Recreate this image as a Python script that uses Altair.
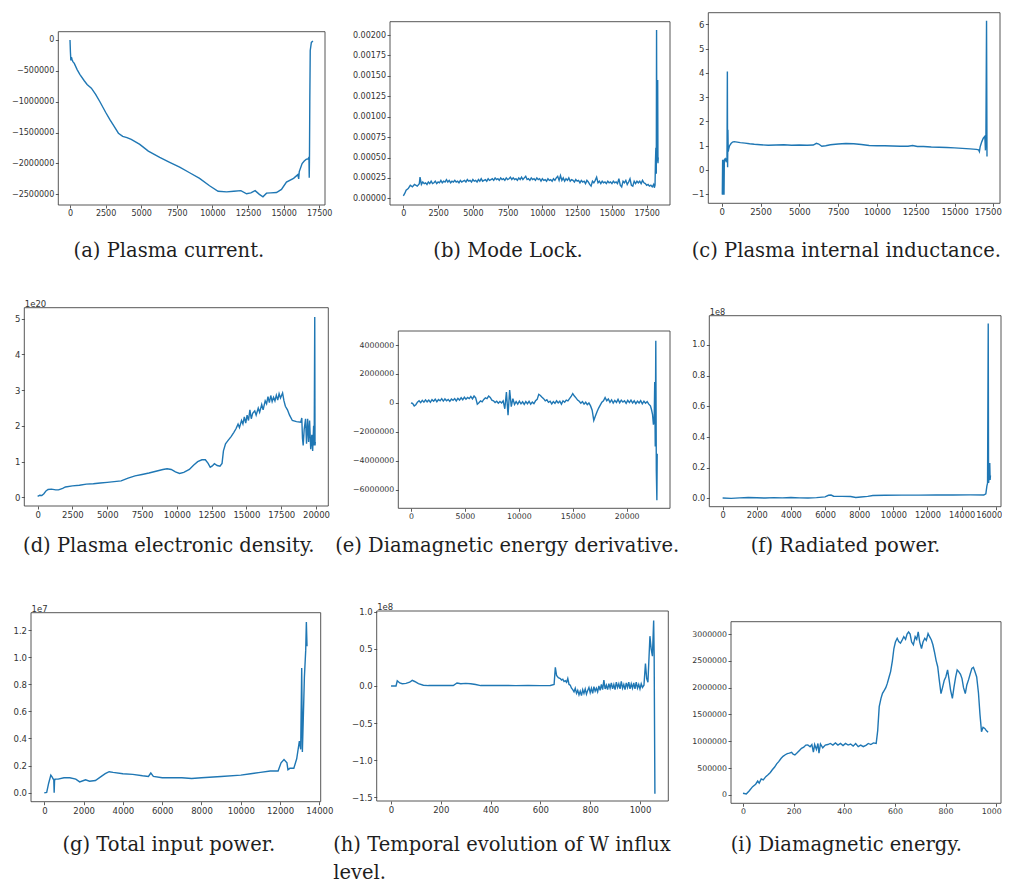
import altair as alt
import pandas as pd

# ---------------- data ----------------
A_X = [0, 30, 60, 100, 150, 200, 300, 500, 700, 1000, 1200, 1500, 1800, 2100, 2500, 2800, 3100, 3400, 3700, 4000,
       4300, 4900, 5500, 6300, 7000, 7700, 8400, 9100, 9800, 10400, 11000, 11500, 12000, 12400, 12700, 13000, 13300,
       13550, 13800, 14100, 14500, 14850, 15200, 15700, 16000, 16060, 16100, 16300, 16450, 16600, 16700, 16780, 16800,
       16815, 16840, 16870, 16950, 17060]
A_Y = [0, -200000, -330000, -280000, -320000, -350000, -380000, -480000, -560000, -660000, -720000, -780000, -880000,
       -1000000, -1170000, -1290000, -1400000, -1510000, -1560000, -1580000, -1610000, -1690000, -1800000, -1900000,
       -1980000, -2060000, -2150000, -2240000, -2360000, -2450000, -2460000, -2450000, -2440000, -2490000, -2475000,
       -2440000, -2500000, -2540000, -2480000, -2475000, -2470000, -2420000, -2300000, -2240000, -2180000, -2250000,
       -2130000, -2000000, -1960000, -1930000, -1930000, -1900000, -2230000, -1950000, -1000000, -170000, -40000, -15000]

# (b) Mode lock: start, sampled band every 100, final burst
B_X = ([0, 100, 200, 350, 500, 650, 800, 1000, 1150, 1200] + list(range(1300, 18001, 100))
       + [18050, 18100, 18130, 18160, 18190, 18210, 18230, 18260, 18290, 18310, 18330])
B_Y = [0.00003, 0.00006, 0.00010, 0.00012, 0.00016, 0.00014, 0.00017, 0.00015, 0.00018, 0.00026,
       0.00017, 0.00020, 0.00018, 0.00019, 0.00017, 0.00020, 0.00018, 0.00021, 0.00018, 0.00019,
       0.00021, 0.00018, 0.00020, 0.00019, 0.00022, 0.00019, 0.00021, 0.00020, 0.00023, 0.00020,
       0.00022, 0.00019, 0.00021, 0.00020, 0.00022, 0.00020, 0.00021, 0.00019, 0.00022, 0.00020,
       0.00021, 0.00022, 0.00020, 0.00023, 0.00021, 0.00022, 0.00020, 0.00023, 0.00021, 0.00022,
       0.00020, 0.00023, 0.00021, 0.00024, 0.00021, 0.00022, 0.00023, 0.00021, 0.00024, 0.00022,
       0.00023, 0.00024, 0.00022, 0.00025, 0.00023, 0.00024, 0.00022, 0.00025, 0.00023, 0.00024,
       0.00022, 0.00025, 0.00023, 0.00024, 0.00026, 0.00023, 0.00025, 0.00023, 0.00024, 0.00022,
       0.00025, 0.00023, 0.00026, 0.00023, 0.00025, 0.00027, 0.00023, 0.00024, 0.00022, 0.00025,
       0.00023, 0.00024, 0.00022, 0.00025, 0.00023, 0.00024, 0.00021, 0.00024, 0.00022, 0.00023,
       0.00021, 0.00024, 0.00022, 0.00023, 0.00021, 0.00024, 0.00022, 0.00025, 0.00027, 0.00022,
       0.00028, 0.00022, 0.00025, 0.00021, 0.00024, 0.00022, 0.00025, 0.00021, 0.00023, 0.00022,
       0.00020, 0.00023, 0.00021, 0.00022, 0.00019, 0.00022, 0.00020, 0.00021, 0.00018, 0.00022,
       0.00020, 0.00017, 0.00015, 0.00021, 0.00019, 0.00022, 0.00026, 0.00019, 0.00021, 0.00018,
       0.00021, 0.00019, 0.00020, 0.00018, 0.00021, 0.00019, 0.00020, 0.00018, 0.00021, 0.00019,
       0.00020, 0.00018, 0.00024, 0.00016, 0.00014, 0.00021, 0.00019, 0.00022, 0.00017, 0.00020,
       0.00024, 0.00016, 0.00015, 0.00021, 0.00018, 0.00021, 0.00019, 0.00021, 0.00018, 0.00022,
       0.00019, 0.00018, 0.00016, 0.00017, 0.00015, 0.00016, 0.00014, 0.00017,
       0.00013, 0.00016, 0.00045, 0.00062, 0.00030, 0.00206, 0.00045, 0.00060, 0.00145, 0.00043, 0.00050]

C_X = [0, 40, 60, 100, 110, 150, 170, 220, 260, 300, 340, 365, 380, 400, 420, 450, 500, 600, 700, 800, 900, 1000,
       1200, 1500, 1800, 2100, 2500, 3000, 3500, 4000, 4500, 5000, 5500, 5900, 6100, 6250, 6450, 6700, 7000, 7500,
       8000, 8500, 9000, 9500, 10000, 10500, 11000, 11500, 12000, 12300, 12600, 13000, 13500, 14000, 14500, 15000,
       15500, 16000, 16400, 16550, 16600, 16650, 16750, 16850, 16950, 16990, 17020, 17060, 17090]
C_Y = [-1.0, -1.0, 0.38, 0.38, -1.0, -1.0, 0.40, 0.45, 0.38, 0.47, 0.30, 4.05, 0.10, 1.65, 0.75, 0.85, 0.98, 1.08,
       1.14, 1.16, 1.15, 1.14, 1.12, 1.10, 1.07, 1.05, 1.03, 1.01, 1.02, 1.03, 1.01, 1.02, 1.01, 1.02, 1.09, 1.06,
       0.97, 0.99, 1.03, 1.06, 1.08, 1.07, 1.04, 1.00, 0.99, 0.99, 0.98, 0.97, 0.97, 1.00, 0.96, 0.96, 0.94, 0.93,
       0.92, 0.90, 0.88, 0.86, 0.84, 0.82, 0.75, 0.95, 1.15, 1.30, 1.38, 0.80, 1.40, 6.15, 0.55]

D_X = [0, 150, 300, 450, 600, 750, 1000, 1300, 1500, 1800, 2000, 2500, 3000, 3500, 4000, 4500, 5000, 5500, 6000, 6500,
       7000, 7500, 8000, 8500, 9000, 9300, 9600, 9900, 10200, 10500, 10900, 11200, 11500, 11800, 12050, 12250, 12400,
       12550, 12700, 12900, 13100, 13250, 13350, 13500, 13700, 13900, 14100, 14250, 14400, 14500, 14650, 14750, 14850,
       14950, 15050, 15150, 15250, 15350, 15450, 15600, 15700, 15850, 15950, 16100, 16200, 16350, 16450, 16550, 16650,
       16750, 16850, 16950, 17050, 17150, 17250, 17350, 17450, 17600, 17700, 17800, 17950, 18100, 18300, 18600, 18900,
       18980, 19030, 19080, 19150, 19250, 19320, 19400, 19470, 19540, 19620, 19700, 19760, 19830, 19870, 19910, 19930,
       19950]
D_Y = [0.03, 0.06, 0.05, 0.10, 0.18, 0.22, 0.23, 0.21, 0.21, 0.25, 0.29, 0.32, 0.34, 0.37, 0.38, 0.40, 0.42, 0.44,
       0.46, 0.54, 0.60, 0.64, 0.68, 0.73, 0.78, 0.80, 0.78, 0.71, 0.67, 0.70, 0.78, 0.90, 1.00, 1.05, 1.05, 0.95,
       0.84, 0.88, 0.94, 0.89, 0.87, 0.95, 1.30, 1.50, 1.60, 1.70, 1.82, 1.92, 2.05, 1.95, 2.15, 2.05, 2.25, 2.08,
       2.30, 2.15, 2.45, 2.20, 2.35, 2.42, 2.30, 2.50, 2.38, 2.60, 2.45, 2.70, 2.62, 2.82, 2.65, 2.85, 2.68, 2.80,
       2.70, 2.86, 2.72, 2.90, 2.78, 2.92, 2.70, 2.55, 2.45, 2.30, 2.15, 2.12, 2.10, 2.22, 1.65, 1.45, 1.90, 2.20,
       1.50, 2.20, 1.55, 2.15, 1.35, 1.75, 1.30, 2.00, 1.45, 5.05, 1.45, 1.55]

# (e) Diamagnetic energy derivative: band sampled every 150, then final burst
E_X = list(range(0, 22201, 150)) + [22300, 22400, 22480, 22550, 22600, 22650, 22700, 22750, 22800, 22830]
E_Y = [0, -30000, -200000, -120000, 60000, 150000, 20000, 180000, 60000, 220000,
       80000, 200000, 50000, 230000, 120000, 260000, 90000, 240000, 150000, 300000,
       130000, 280000, 160000, 250000, 110000, 270000, 180000, 300000, 140000, 320000,
       200000, 360000, 220000, 400000, 260000, 380000, 300000, 450000, 280000, 480000,
       350000, -80000, 20000, 150000, 80000, 250000, 350000, 300000, 480000, 380000,
       200000, 150000, 30000, 120000, -20000, 100000, 0, 150000, -400000, 750000,
       -850000, 900000, -250000, 300000, -100000, 100000, -80000, 120000, -60000, 80000,
       -100000, 100000, -50000, 120000, -80000, 60000, -40000, 150000, 250000, 600000,
       520000, 400000, 300000, 150000, 220000, 50000, 120000, -60000, 100000, -20000,
       150000, 0, 120000, -80000, 150000, 50000, 200000, 150000, 300000, 450000,
       650000, 480000, 350000, 200000, 120000, -20000, 100000, -80000, 50000, -120000,
       0, -200000, -500000, -1200000, -900000, -600000, -350000, -150000, 50000, 150000,
       380000, 150000, 280000, 50000, 220000, 0, 180000, 40000, 250000, 20000,
       200000, 60000, 150000, -20000, 180000, 30000, 200000, 0, 150000, -40000,
       130000, 0, 160000, -60000, 120000, -20000, 100000, -80000, -200000,
       -450000, -800000, -1500000, -1200000, 1450000, -3000000, 4300000, -4700000, -6700000, -3500000]

F_X = [0, 500, 1000, 1500, 2000, 2500, 3000, 3500, 4000, 4500, 5000, 5500, 6000, 6200, 6350, 6500, 7000, 7500, 7800,
       8100, 8500, 8800, 9500, 10500, 11500, 12500, 13500, 14500, 15300, 15420, 15480, 15520, 15560, 15580, 15620,
       15650, 15670, 15690]
F_Y = [0.002, 0.0, 0.003, 0.006, 0.004, 0.002, 0.005, 0.003, 0.006, 0.003, 0.002, 0.005, 0.010, 0.020, 0.022, 0.014,
       0.013, 0.012, 0.006, 0.009, 0.013, 0.019, 0.020, 0.021, 0.021, 0.022, 0.022, 0.023, 0.022, 0.03, 0.08, 0.10,
       1.14, 0.10, 0.15, 0.23, 0.12, 0.15]

G_X = [0, 120, 220, 330, 400, 450, 480, 500, 520, 560, 700, 1000, 1300, 1600, 1800, 2000, 2100, 2300, 2600, 2900,
       3100, 3300, 3500, 4000, 4500, 5000, 5300, 5420, 5550, 6000, 7000, 7500, 8000, 9000, 10000, 10500, 11000, 11500,
       11900, 12050, 12200, 12350, 12400, 12500, 12700, 12846, 12982, 13050, 13101, 13135, 13203, 13237, 13305, 13338,
       13372]
G_Y = [0.0, 0.002, 0.07, 0.13, 0.115, 0.10, 0.10, 0.0, 0.09, 0.10, 0.10, 0.11, 0.11, 0.10, 0.08, 0.09, 0.095, 0.085,
       0.09, 0.12, 0.14, 0.155, 0.15, 0.14, 0.135, 0.125, 0.12, 0.145, 0.12, 0.11, 0.11, 0.105, 0.11, 0.12, 0.13, 0.14,
       0.15, 0.16, 0.16, 0.22, 0.245, 0.22, 0.17, 0.18, 0.18, 0.25, 0.38, 0.32, 0.92, 0.30, 0.66, 0.85, 1.05, 1.26,
       1.08]

# (h) W influx: quiet start, noisy band sampled every 5, final burst
H_X = ([0, 20, 25, 35, 45, 60, 75, 85, 95, 110, 130, 150, 200, 250, 265, 280, 300, 320, 340, 360, 400, 450, 500, 550,
        600, 640, 655, 660, 665, 672] + list(range(680, 1011, 5))
       + [1016, 1022, 1027, 1032, 1040, 1045, 1050, 1055, 1057, 1060])
H_Y = [0.0, 0.0, 0.07, 0.04, 0.03, 0.035, 0.05, 0.075, 0.06, 0.03, 0.01, 0.005, 0.008, 0.006, 0.04, 0.03, 0.035,
       0.03, 0.02, 0.005, 0.005, 0.007, 0.004, 0.008, 0.004, 0.006, 0.02, 0.25, 0.14, 0.11,
       0.10, 0.08, 0.09, 0.06, 0.07, 0.05, 0.10, 0.02, 0.01, -0.03,
       -0.05, -0.08, -0.03, -0.10, -0.06, -0.12, -0.07, -0.13, -0.05, -0.10,
       -0.04, -0.11, -0.06, -0.02, -0.09, -0.03, -0.10, -0.01, -0.07, -0.03,
       -0.08, 0.00, -0.06, 0.02, -0.05, 0.08, -0.04, 0.01, -0.05, 0.03,
       -0.03, 0.04, -0.04, 0.02, -0.05, 0.05, -0.02, 0.03, -0.04, 0.06,
       -0.03, 0.02, -0.05, 0.04, -0.02, 0.05, -0.04, 0.03, -0.03, 0.04,
       -0.04, 0.05, -0.03, 0.02, -0.04, 0.03, -0.02,
       0.01, 0.30, 0.10, 0.05, 0.67, 0.50, 0.40, 0.88, 0.40, -1.45]

I_X = [0, 13, 25, 38, 50, 58, 64, 72, 80, 90, 100, 108, 115, 125, 133, 141, 150, 158, 167, 175, 183, 192, 198, 205,
       215, 223, 231, 240, 248, 256, 265, 272, 278, 283, 290, 296, 300, 306, 315, 325, 335, 345, 355, 365, 375, 385,
       395, 405, 415, 425, 435, 445, 455, 465, 475, 487, 495, 505, 515, 526, 532, 538, 545, 551, 558, 564, 570, 577,
       583, 590, 596, 602, 609, 615, 622, 628, 635, 642, 648, 654, 660, 666, 673, 680, 686, 692, 698, 705, 711, 718,
       724, 731, 737, 744, 750, 756, 763, 769, 775, 782, 788, 795, 801, 808, 814, 820, 827, 833, 840, 846, 852, 859,
       865, 871, 878, 884, 891, 897, 904, 910, 916, 923, 930, 936, 942, 948, 955, 961, 968]
I_Y = [31000, 19000, 80000, 155000, 200000, 260000, 220000, 300000, 280000, 342000, 380000, 420000, 466000, 520000,
       580000, 621000, 680000, 720000, 750000, 770000, 780000, 795000, 760000, 745000, 790000, 830000, 870000, 890000,
       930000, 932000, 900000, 940000, 800000, 940000, 850000, 960000, 780000, 950000, 880000, 930000, 940000, 960000,
       930000, 970000, 930000, 960000, 920000, 960000, 930000, 950000, 910000, 960000, 900000, 930000, 900000, 930000,
       960000, 940000, 970000, 960000, 1200000, 1646000, 1800000, 1894000, 1950000, 2000000, 2080000, 2200000,
       2300000, 2500000, 2730000, 2850000, 2920000, 2860000, 2830000, 2880000, 2950000, 2900000, 3000000, 3040000,
       3000000, 2850000, 2800000, 2950000, 2900000, 3040000, 2850000, 2730000, 2850000, 2920000, 2880000, 3010000,
       2950000, 2890000, 2800000, 2670000, 2500000, 2390000, 2150000, 1890000, 2000000, 2140000, 2200000, 2330000,
       2150000, 1950000, 1800000, 2000000, 2200000, 2330000, 2300000, 2250000, 2170000, 2000000, 1890000, 2050000,
       2150000, 2250000, 2360000, 2380000, 2300000, 2200000, 1900000, 1500000, 1180000, 1260000, 1240000, 1200000,
       1170000]

CAPTIONS = ["(a) Plasma current.", "(b) Mode Lock.", "(c) Plasma internal inductance.",
            "(d) Plasma electronic density.", "(e) Diamagnetic energy derivative.", "(f) Radiated power.",
            "(g) Total input power.", ["(h) Temporal evolution of W influx", "level."], "(i) Diamagnetic energy."]
EXPONENTS = [None, None, None, "1e20", None, "1e8", "1e7", "1e8", None]

X_TICKS = [list(range(0, 17501, 2500)), list(range(0, 17501, 2500)), list(range(0, 17501, 2500)),
           list(range(0, 20001, 2500)), list(range(0, 20001, 5000)), list(range(0, 16001, 2000)),
           list(range(0, 14001, 2000)), list(range(0, 1001, 200)), list(range(0, 1001, 200))]
Y_TICKS = [[0, -500000, -1000000, -1500000, -2000000, -2500000],
           [0, 0.00025, 0.0005, 0.00075, 0.001, 0.00125, 0.0015, 0.00175, 0.002],
           [-1, 0, 1, 2, 3, 4, 5, 6],
           [0, 1, 2, 3, 4, 5],
           [-6000000, -4000000, -2000000, 0, 2000000, 4000000],
           [0, 0.2, 0.4, 0.6, 0.8, 1.0],
           [0, 0.2, 0.4, 0.6, 0.8, 1.0, 1.2],
           [-1.5, -1.0, -0.5, 0, 0.5, 1.0],
           [0, 500000, 1000000, 1500000, 2000000, 2500000, 3000000]]
Y_FMT = ["d", ".5f", "d", "d", "d", ".1f", ".1f", ".1f", "d"]

X_DOM = [[-822, 17907], [-959, 19176], [-863, 17927], [-958, 20884], [-1175, 24017], [-781, 16308],
         [-679, 14068], [-57.6, 1113.8], [-47.4, 1019]]
Y_DOM = [[-2672000, 134000], [-0.0000816, 0.002163], [-1.385, 6.48], [-0.2425, 5.308], [-7264000, 4966000],
         [-0.0543, 1.191], [-0.0664, 1.328], [-1.549, 1.009], [-155300, 3229800]]

# ---------------- layout (pixels in chart coordinates) ----------------
W, H = 994, 874
BOXES = [(50.3, 317, 23.7, 197), (382, 662, 13.7, 197), (700.3, 992, 4.7, 195.3),
         (16.3, 320.3, 299.7, 498), (390.3, 662, 323, 500.3), (701.3, 993, 307.7, 498.7),
         (23, 312.7, 604.7, 793.7), (368.7, 660.3, 603, 793), (723, 993, 613.7, 795.3)]
CAP_X = [160.4, 499.5, 837.8, 160.3, 498.7, 837, 160.3, 324.7, 837.8]
CAP_Y = [248, 248, 248, 543, 543, 543, 842, 842, 842]
CAP_ALIGN = ["center"] * 7 + ["left", "center"]
LABEL_SIZE = [8, 8, 8.5, 8.5, 7.8, 8.2, 8.5, 8.5, 7.8]
X_FLUSH = [False, False, 9, False, False, 9, False, False, 9]
X_FLUSH_OFFSET = [0, 0, 8, 0, 0, 6, 0, 0, 5]

LINE_COLOR = "#1f77b4"
INK = "#333333"

SERIES = [(A_X, A_Y), (B_X, B_Y), (C_X, C_Y), (D_X, D_Y), (E_X, E_Y), (F_X, F_Y), (G_X, G_Y), (H_X, H_Y),
          (I_X, I_Y)]


def panel(i):
    xs, ys = SERIES[i]
    L, R, T, B = BOXES[i]
    xdom, ydom = X_DOM[i], Y_DOM[i]
    fs = LABEL_SIZE[i]
    data = pd.DataFrame({"x": xs, "y": ys})
    frame = pd.DataFrame({"x": [xdom[0]], "x2": [xdom[1]], "y": [ydom[0]], "y2": [ydom[1]]})
    xscale = alt.Scale(domain=xdom, range=[L, R], nice=False, zero=False)
    yscale = alt.Scale(domain=ydom, range=[B, T], nice=False, zero=False)
    common = dict(domain=False, grid=False, ticks=True, tickSize=3, tickWidth=0.8, tickColor=INK,
                  labelFont="DejaVu Sans", labelFontSize=fs, labelColor=INK, labelPadding=1.5,
                  labelOverlap=False)
    xaxis = alt.Axis(orient="bottom", offset=B - H, values=X_TICKS[i], format="d",
                     labelFlush=X_FLUSH[i], labelFlushOffset=X_FLUSH_OFFSET[i],
                     title=CAPTIONS[i], titleFont="DejaVu Serif", titleFontSize=19.5,
                     titleFontWeight="normal", titleColor="#1e1e1e", titleX=CAP_X[i],
                     titleY=CAP_Y[i] - B, titleAlign=CAP_ALIGN[i], titleBaseline="alphabetic",
                     titleLineHeight=28, **common)
    ykw = dict(orient="left", offset=-L, values=Y_TICKS[i], format=Y_FMT[i], labelFlush=False, **common)
    if EXPONENTS[i]:
        ykw.update(title=EXPONENTS[i], titleFont="DejaVu Sans", titleFontSize=fs, titleFontWeight="normal",
                   titleColor=INK, titleAngle=0, titleX=0, titleY=T - 1.5, titleAlign="left",
                   titleBaseline="alphabetic")
    else:
        ykw["title"] = None
    yaxis = alt.Axis(**ykw)
    box = alt.Chart(frame).mark_rect(fill="transparent", stroke="#444444", strokeWidth=0.9).encode(
        x=alt.X("x:Q", scale=xscale, axis=None),
        x2="x2",
        y=alt.Y("y:Q", scale=yscale, axis=None),
        y2="y2",
    )
    line = alt.Chart(data).mark_line(color=LINE_COLOR, strokeWidth=1.4).encode(
        x=alt.X("x:Q", scale=xscale, axis=xaxis),
        y=alt.Y("y:Q", scale=yscale, axis=yaxis),
    )
    return [box, line]


layers = []
for k in range(9):
    layers += panel(k)

chart = (
    alt.layer(*layers)
    .resolve_scale(x="independent", y="independent")
    .resolve_axis(x="independent", y="independent")
    .properties(width=W, height=H, padding=0, autosize=alt.AutoSizeParams(type="none"))
    .configure_view(stroke="transparent")
)

chart.save("out.html", embed_options={"renderer": "svg", "actions": False})
